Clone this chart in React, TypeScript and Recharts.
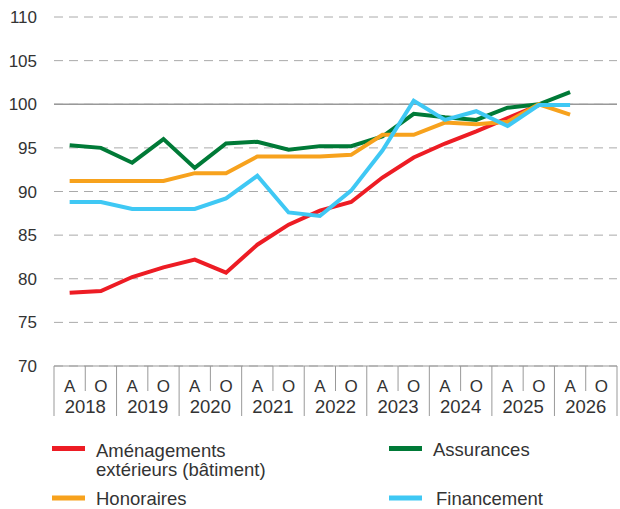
import React from "react";
import {
  LineChart,
  Line,
  XAxis,
  YAxis,
  CartesianGrid,
  ReferenceLine,
} from "recharts";

const halves = [
  "A", "O", "A", "O", "A", "O", "A", "O", "A", "O",
  "A", "O", "A", "O", "A", "O", "A", "O",
];
const years = ["2018", "2019", "2020", "2021", "2022", "2023", "2024", "2025", "2026"];

const amenagements = [
  78.4, 78.6, 80.2, 81.3, 82.2, 80.7, 83.9, 86.2, 87.8, 88.8,
  91.6, 93.9, 95.5, 96.9, 98.4, 99.9, null, null,
];
const assurances = [
  95.3, 95.0, 93.3, 96.0, 92.7, 95.5, 95.7, 94.8, 95.2, 95.2,
  96.3, 98.9, 98.5, 98.2, 99.6, 100.0, 101.4, null,
];
const honoraires = [
  91.2, 91.2, 91.2, 91.2, 92.1, 92.1, 94.0, 94.0, 94.0, 94.2,
  96.5, 96.5, 97.9, 97.7, 98.0, 100.0, 98.8, null,
];
const financement = [
  88.8, 88.8, 88.0, 88.0, 88.0, 89.2, 91.8, 87.6, 87.2, 90.1,
  94.7, 100.4, 98.2, 99.2, 97.5, 99.9, 99.9, null,
];

const yTicks = [70, 75, 80, 85, 90, 95, 100, 105, 110];

const series = [
  { key: "amenagements", name: ["Aménagements", "extérieurs (bâtiment)"], color: "#ed1c24" },
  { key: "assurances", name: ["Assurances"], color: "#007a37" },
  { key: "honoraires", name: ["Honoraires"], color: "#f7a21d" },
  { key: "financement", name: ["Financement"], color: "#3fc8f4" },
];

const data = halves.map((h, i) => ({
  idx: i,
  half: h,
  amenagements: amenagements[i],
  assurances: assurances[i],
  honoraires: honoraires[i],
  financement: financement[i],
}));

const PLOT_LEFT = 54;
const PLOT_RIGHT = 617;
const PLOT_TOP = 17;
const PLOT_BOTTOM = 366;
const SLOT = (PLOT_RIGHT - PLOT_LEFT) / halves.length;
const FONT = "'Liberation Sans', Arial, sans-serif";

const HalfTick = (props: any) => {
  const { x, payload } = props;
  const i = payload.index;
  const half = SLOT / 2;
  const isA = halves[i] === "A";
  return (
    <g>
      {i === 0 && (
        <line x1={x - half} x2={x - half} y1={PLOT_BOTTOM} y2={416} stroke="#999" />
      )}
      <line
        x1={x + half}
        x2={x + half}
        y1={PLOT_BOTTOM}
        y2={isA ? 391 : 416}
        stroke="#999"
      />
      <text x={x} y={392} textAnchor="middle" fontSize={17} fill="#333" fontFamily={FONT}>
        {halves[i]}
      </text>
      {isA && (
        <text x={x + half} y={413} textAnchor="middle" fontSize={18.5} fill="#333" fontFamily={FONT}>
          {years[i / 2]}
        </text>
      )}
    </g>
  );
};

// swatch x, text x, swatch centre y, first baseline
const legendPos = [
  { sx: 52, tx: 96, cy: 448.5, by: 456.7 },
  { sx: 389, tx: 433, cy: 448.5, by: 455.7 },
  { sx: 52, tx: 96, cy: 498, by: 504.5 },
  { sx: 389, tx: 436, cy: 498, by: 504.5 },
];

const LegendBox = () => (
  <svg
    width={620}
    height={509}
    style={{ position: "absolute", left: 0, top: 0, pointerEvents: "none" }}
  >
    {series.map((s, i) => {
      const p = legendPos[i];
      return (
        <g key={s.key}>
          <rect x={p.sx} y={p.cy - 2.5} width={33} height={5} fill={s.color} />
          <text x={p.tx} y={p.by} fontSize={18.5} fill="#333" fontFamily={FONT}>
            {s.name.map((line, j) => (
              <tspan key={j} x={p.tx} dy={j === 0 ? 0 : 19}>
                {line}
              </tspan>
            ))}
          </text>
        </g>
      );
    })}
  </svg>
);

export default function App() {
  return (
    <div
      style={{
        position: "absolute",
        left: 0,
        top: 0,
        width: 620,
        height: 509,
        overflow: "hidden",
        background: "#fff",
      }}
    >
      <LineChart
        width={620}
        height={430}
        data={data}
        margin={{ top: PLOT_TOP, right: 620 - PLOT_RIGHT, left: 0, bottom: 0 }}
      >
        <CartesianGrid vertical={false} stroke="#aaa" strokeDasharray="9 6" />
        <XAxis
          dataKey="idx"
          type="category"
          interval={0}
          height={430 - PLOT_BOTTOM}
          padding={{ left: SLOT / 2, right: SLOT / 2 }}
          axisLine={{ stroke: "#999" }}
          tickLine={false}
          tick={<HalfTick />}
        />
        <YAxis
          width={PLOT_LEFT}
          domain={[70, 110]}
          ticks={yTicks}
          axisLine={false}
          tickLine={false}
          tickMargin={11}
          tick={{ fontSize: 17, fill: "#333", fontFamily: FONT }}
        />
        <ReferenceLine y={100} stroke="#999" strokeWidth={1.5} />
        {series.map((s) => (
          <Line
            key={s.key}
            dataKey={s.key}
            name={s.name.join(" ")}
            stroke={s.color}
            strokeWidth={4}
            dot={false}
            type="linear"
            isAnimationActive={false}
          />
        ))}
      </LineChart>
      <LegendBox />
    </div>
  );
}
